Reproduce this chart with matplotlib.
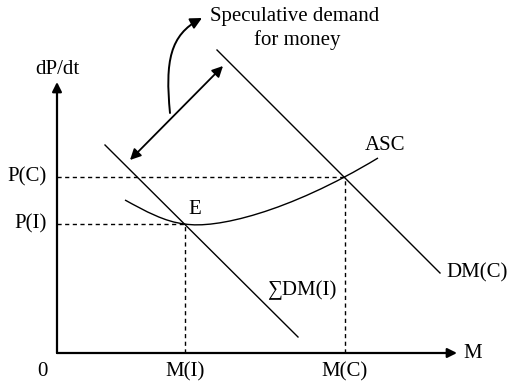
import numpy as np
import matplotlib
matplotlib.use('Agg')
import matplotlib.pyplot as plt
from matplotlib.path import Path
from matplotlib.patches import FancyArrowPatch, PathPatch

plt.rcParams['font.family'] = ['Liberation Serif', 'DejaVu Serif']

# schematic values (origin at the axes corner)
m_levels = [128, 288]          # M(I), M(C)
p_levels = [129, 176]          # P(I), P(C)
m_labels = ['M(I)', 'M(C)']
p_labels = ['P(I)', 'P(C)']
dm_i = ([48, 241], [208, 16])      # sum DM(I) line
dm_c = ([160, 383], [303, 80])     # DM(C) line
# ASC bezier: two cubic pieces joined at E
asc_ctrl = [(68, 153), (88, 142), (108, 131), (128, 129),
            (158, 124), (230, 140), (321, 195)]

fig = plt.figure(figsize=(5.11, 3.83), dpi=100)
ax = fig.add_axes([0, 0, 1, 1])
ax.set_xlim(-57, 454)
ax.set_ylim(-30, 353)
ax.axis('off')

fs = 15
# axes with arrows
ax.annotate('', xy=(400, 0), xytext=(0, 0),
            arrowprops=dict(arrowstyle='-|>', lw=1.6, color='black', mutation_scale=14, shrinkA=0, shrinkB=0))
ax.annotate('', xy=(0, 271), xytext=(0, 0),
            arrowprops=dict(arrowstyle='-|>', lw=1.6, color='black', mutation_scale=14, shrinkA=0, shrinkB=0))

# dashed guides
for m, p in zip(m_levels, p_levels):
    ax.plot([0, m], [p, p], ls=(0, (3, 2.5)), color='black', lw=1)
    ax.plot([m, m], [0, p], ls=(0, (3, 2.5)), color='black', lw=1)

ax.plot(dm_i[0], dm_i[1], color='black', lw=1)
ax.plot(dm_c[0], dm_c[1], color='black', lw=1)

asc = Path(asc_ctrl, [Path.MOVETO] + [Path.CURVE4] * 6)
ax.add_patch(PathPatch(asc, fill=False, lw=1, color='black'))

# double arrow between the demand curves
ax.annotate('', xy=(166, 287), xytext=(73, 193),
            arrowprops=dict(arrowstyle='<|-|>', lw=1.3, color='black', mutation_scale=16, shrinkA=0, shrinkB=0))

# curved pointer to the caption
curve = Path([(113, 240), (108, 292), (113, 318), (145, 335)],
             [Path.MOVETO, Path.CURVE4, Path.CURVE4, Path.CURVE4])
ax.add_patch(FancyArrowPatch(path=curve, arrowstyle='-|>', lw=1.4, color='black', mutation_scale=17))

# labels
ax.text(0, 283, 'dP/dt', fontsize=fs, ha='center', va='center')
ax.text(-15, -19, '0', fontsize=fs, ha='center', va='center')
for m, lab in zip(m_levels, m_labels):
    ax.text(m, -19, lab, fontsize=fs, ha='center', va='center')
for p, lab in zip(p_levels, p_labels):
    ax.text(-10, p, lab, fontsize=fs, ha='right', va='center')
ax.text(406, 0, 'M', fontsize=fs, ha='left', va='center')
ax.text(328, 208, 'ASC', fontsize=fs, ha='center', va='center')
ax.text(138, 143, 'E', fontsize=fs, ha='center', va='center')
ax.text(245, 63, '\u2211DM(I)', fontsize=fs, ha='center', va='center')
ax.text(420, 80, 'DM(C)', fontsize=fs, ha='center', va='center')
ax.text(238, 337, 'Speculative demand', fontsize=fs, ha='center', va='center')
ax.text(240, 313, 'for money', fontsize=fs, ha='center', va='center')

fig.savefig('out.png', dpi=100)
